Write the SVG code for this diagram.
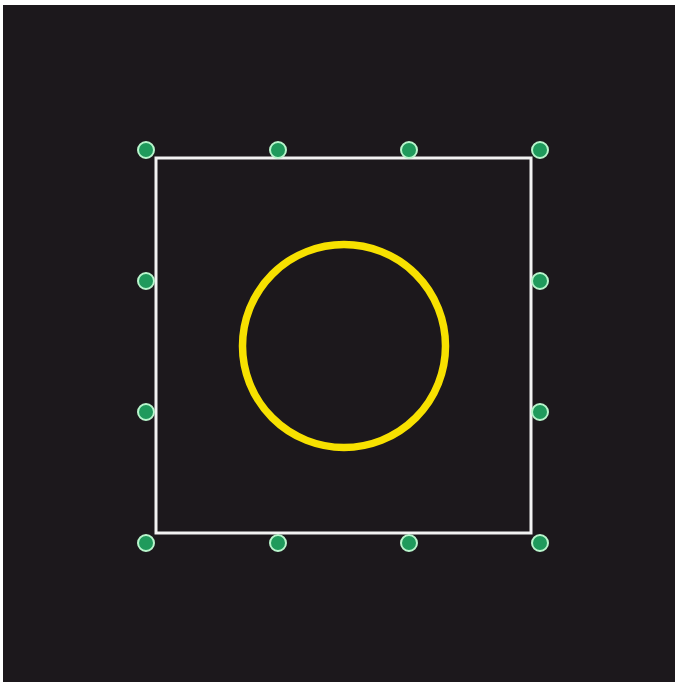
<svg xmlns="http://www.w3.org/2000/svg" width="677" height="683" viewBox="0 0 677 683">
<style>
.dot{fill:#1f9a5c;stroke:#b8f5cc;stroke-width:2}
.frame{fill:none;stroke:#f2f2f2;stroke-width:3}
.ring{fill:none;stroke:#f7e100;stroke-width:7.5}
</style>
<rect x="0" y="0" width="677" height="683" fill="#ffffff"/>
<rect x="3" y="5" width="672" height="677" fill="#1c181c"/>
<g id="connectors"></g>
<g id="frame"><rect class="frame" x="156" y="158" width="375" height="375"/></g>
<g id="ring"><circle class="ring" cx="344" cy="346" r="101.5"/></g>
<g id="handles">
<circle class="dot" cx="146" cy="150" r="8"/>
<circle class="dot" cx="278" cy="150" r="8"/>
<circle class="dot" cx="409" cy="150" r="8"/>
<circle class="dot" cx="540" cy="150" r="8"/>
<circle class="dot" cx="146" cy="281" r="8"/>
<circle class="dot" cx="540" cy="281" r="8"/>
<circle class="dot" cx="146" cy="412" r="8"/>
<circle class="dot" cx="540" cy="412" r="8"/>
<circle class="dot" cx="146" cy="543" r="8"/>
<circle class="dot" cx="278" cy="543" r="8"/>
<circle class="dot" cx="409" cy="543" r="8"/>
<circle class="dot" cx="540" cy="543" r="8"/>
</g>
</svg>
